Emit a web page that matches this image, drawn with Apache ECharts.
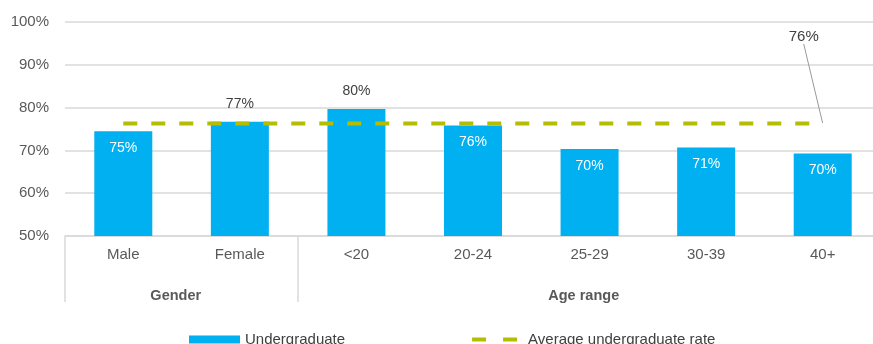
<!DOCTYPE html>
<html>
<head>
<meta charset="utf-8">
<script src="https://cdn.jsdelivr.net/npm/echarts@6/dist/echarts.min.js"></script>
<style>
  html, body { margin: 0; padding: 0; background: #fff; }
  #chart { width: 873px; height: 344px; }
</style>
</head>
<body>
<div id="chart"></div>
<script>
var categories = ['Male', 'Female', '<20', '20-24', '25-29', '30-39', '40+'];
var undergraduate = [74.5, 76.7, 79.7, 75.8, 70.3, 70.7, 69.3];
var barLabels = ['75%', '77%', '80%', '76%', '70%', '71%', '70%'];
var labelAbove = [false, true, true, false, false, false, false];
var averageRate = 76.3;
var averageLabel = '76%';
var groups = ['Gender', 'Age range'];
var groupCenters = [0.95, 4.45]; // in category units along the axis

var font = '"Liberation Sans", Arial, sans-serif';

var chart = echarts.init(document.getElementById('chart'));

var barData = undergraduate.map(function (v, i) {
    return {
        value: v,
        label: labelAbove[i]
            ? { position: 'top', distance: 11, color: '#404040' }
            : { position: 'insideTop', distance: 10, color: '#ffffff' }
    };
});

var lineData = categories.map(function (c, i) {
    if (i === categories.length - 1) {
        return {
            value: averageRate,
            label: { show: true, formatter: averageLabel, position: 'top', color: '#404040', fontSize: 15, fontFamily: font }
        };
    }
    return averageRate;
});

var option = {
    animation: false,
    grid: { left: 65, top: 22, right: -8, bottom: 108, outerBoundsMode: 'none' },
    legend: {
        left: 189, top: 332,
        padding: 0,
        itemGap: 125,
        itemWidth: 51, itemHeight: 8,
        textStyle: { color: '#404040', fontSize: 15, fontFamily: font },
        data: [
            { name: 'Undergraduate', icon: 'rect' },
            { name: 'Average undergraduate rate', itemStyle: { color: 'transparent' }, lineStyle: { color: '#b5bd00', width: 4, type: [14, 17] } }
        ]
    },
    xAxis: [{
        type: 'category',
        data: categories,
        axisLine: { show: true, lineStyle: { color: '#d9d9d9', width: 1.5 } },
        axisTick: {
            show: true, length: 66,
            interval: function (i) { return i === 0 || i === 2; },
            lineStyle: { color: '#d9d9d9', width: 1.5 }
        },
        axisLabel: { color: '#595959', fontSize: 15, fontFamily: font, margin: 11 }
    }, {
        type: 'value',
        min: 0, max: 7,
        position: 'bottom',
        offset: 41,
        axisLine: { show: false },
        axisTick: { show: false },
        splitLine: { show: false },
        axisLabel: {
            customValues: groupCenters,
            formatter: function (v) { return groups[groupCenters.indexOf(v)]; },
            color: '#595959', fontSize: 14.5, fontWeight: 'bold', fontFamily: font, margin: 11
        }
    }],
    yAxis: {
        type: 'value',
        min: 50, max: 100, interval: 10,
        axisLine: { show: false },
        axisTick: { show: false },
        axisLabel: { formatter: '{value}%', color: '#595959', fontSize: 15, fontFamily: font, margin: 16 },
        splitLine: { lineStyle: { color: '#d9d9d9', width: 1.5 } }
    },
    series: [{
        name: 'Undergraduate',
        type: 'bar',
        barWidth: 58,
        data: barData,
        itemStyle: { color: '#00b0f0' },
        label: {
            show: true,
            formatter: function (p) { return barLabels[p.dataIndex]; },
            fontSize: 14, fontFamily: font
        }
    }, {
        name: 'Average undergraduate rate',
        type: 'line',
        data: lineData,
        symbol: 'circle',
        symbolSize: 1,
        itemStyle: { color: 'transparent' },
        lineStyle: { color: '#b5bd00', width: 4, type: [14, 14] },
        labelLine: { show: true, lineStyle: { color: '#999999', width: 1 } },
        labelLayout: function (p) {
            return p.dataIndex === categories.length - 1 ? { dx: -19, dy: -74 } : {};
        }
    }]
};

chart.setOption(option);
</script>
</body>
</html>
